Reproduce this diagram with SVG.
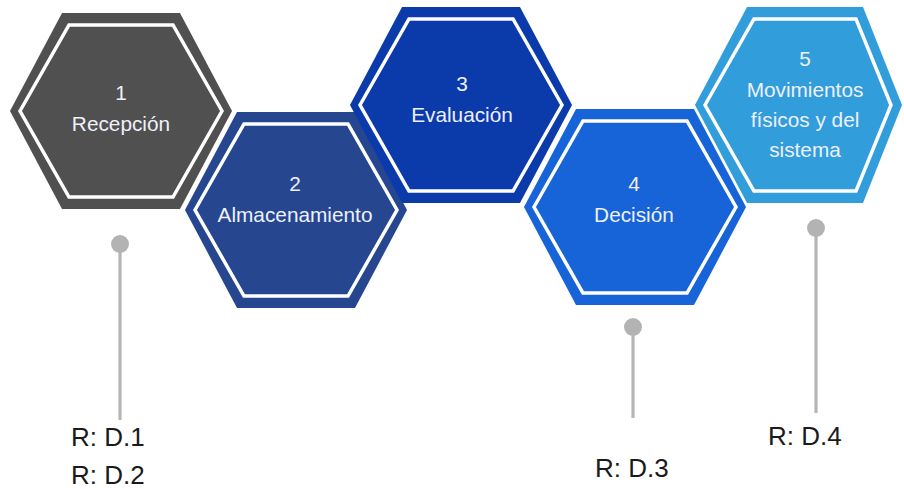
<svg xmlns="http://www.w3.org/2000/svg" width="904" height="489" viewBox="0 0 904 489">
<style>
.in{fill:none;stroke:#ffffff;stroke-width:3.5;stroke-linejoin:miter}
.t{font-family:"Liberation Sans",Arial,sans-serif;font-size:20.8px;fill:#eef0fa;text-anchor:middle}
.lbl{font-family:"Liberation Sans",Arial,sans-serif;font-size:26px;fill:#1a1a1a}
.ln{stroke:#b5b5b5;stroke-width:3.2}
.dot{fill:#b3b3b3}
</style>
<rect width="904" height="489" fill="#ffffff"/>
<g id="node1">
<polygon points="10,111 62,13 180,13 232,111 180,209 62,209" fill="#505050"/>
<polygon class="in" points="20,111 69,25 173,25 222,111 173,197 69,197"/>
<text class="t" x="121" y="100">1</text>
<text class="t" x="121" y="131">Recepción</text>
</g>
<g id="node2">
<polygon points="185,210 237,112 355,112 407,210 355,308 237,308" fill="#264790"/>
<polygon class="in" points="195,210 244,124 348,124 397,210 348,296 244,296"/>
<text class="t" x="295" y="191">2</text>
<text class="t" x="295" y="222">Almacenamiento</text>
</g>
<g id="node3">
<polygon points="350,105 402,7 520,7 572,105 520,203 402,203" fill="#0b3aaa"/>
<polygon class="in" points="360,105 409,19 513,19 562,105 513,191 409,191"/>
<text class="t" x="462" y="91">3</text>
<text class="t" x="462" y="122">Evaluación</text>
</g>
<g id="node4">
<polygon points="524,207 576,109 694,109 746,207 694,305 576,305" fill="#1764d8"/>
<polygon class="in" points="534,207 583,121 687,121 736,207 687,293 583,293"/>
<text class="t" x="634" y="191">4</text>
<text class="t" x="634" y="222">Decisión</text>
</g>
<g id="node5">
<polygon points="695,105 747,7 863,7 902,105 863,203 747,203" fill="#329ddb"/>
<polygon class="in" points="705,105 754,19 856,19 891,105 856,191 754,191"/>
<text class="t" x="805" y="66">5</text>
<text class="t" x="805" y="97">Movimientos</text>
<text class="t" x="805" y="127">físicos y del</text>
<text class="t" x="805" y="157">sistema</text>
</g>
<g id="connectors">
<line class="ln" x1="120" y1="244" x2="120" y2="420"/>
<circle class="dot" cx="120" cy="244" r="9"/>
<line class="ln" x1="633" y1="327" x2="633" y2="418"/>
<circle class="dot" cx="633" cy="327" r="9"/>
<line class="ln" x1="816" y1="228" x2="816" y2="413"/>
<circle class="dot" cx="816" cy="228" r="9"/>
</g>
<g id="labels">
<text class="lbl" x="71" y="446">R: D.1</text>
<text class="lbl" x="71" y="484">R: D.2</text>
<text class="lbl" x="595" y="477">R: D.3</text>
<text class="lbl" x="768" y="445">R: D.4</text>
</g>
</svg>
